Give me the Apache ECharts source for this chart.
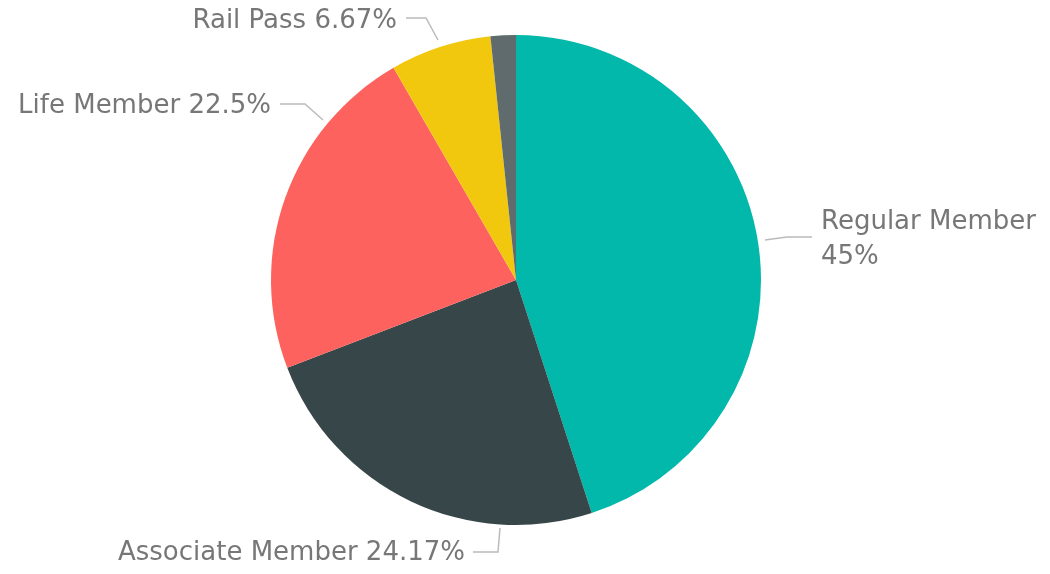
<!DOCTYPE html>
<html>
<head>
<meta charset="utf-8">
<script src="https://cdn.jsdelivr.net/npm/echarts@6/dist/echarts.min.js"></script>
<style>
  html, body { margin: 0; padding: 0; background: #fff; }
  #chart { width: 1050px; height: 574px; }
</style>
</head>
<body>
<div id="chart"></div>
<script>
// membership counts (out of 120)
var categories = ['Regular Member', 'Associate Member', 'Life Member', 'Rail Pass', 'Other'];
var counts = [54, 29, 27, 8, 2];
var colors = ['#01B8AA', '#374649', '#FD625E', '#F2C80F', '#5F6B6D'];

// where each label sits (text anchor + leader line), like the original layout
var labelSpots = {
  'Regular Member': { x: 821, y: 240, align: 'left', line: [[765, 240], [787, 237], [812, 237]] },
  'Associate Member': { x: 465, y: 553, align: 'right', line: [[500, 528], [498, 552], [473, 552]] },
  'Life Member': { x: 271, y: 106, align: 'right', line: [[323, 120], [305, 104], [280, 104]] },
  'Rail Pass': { x: 397, y: 21, align: 'right', line: [[438, 40], [426, 18], [406, 18]] }
};

var chart = echarts.init(document.getElementById('chart'));

var pieData = categories.map(function (name, i) {
  var item = { name: name, value: counts[i], itemStyle: { color: colors[i] } };
  if (name === 'Other') {
    item.label = { show: false };
    item.labelLine = { show: false };
  }
  return item;
});

chart.setOption({
  animation: false,
  series: [
    {
      type: 'pie',
      center: [516, 280],
      radius: 245,
      startAngle: 90,
      clockwise: true,
      avoidLabelOverlap: false,
      data: pieData,
      label: {
        show: true,
        position: 'outside',
        color: '#777777',
        fontFamily: 'DejaVu Sans',
        fontSize: 26,
        lineHeight: 35,
        formatter: function (p) {
          if (p.name === 'Regular Member') return p.name + '\n' + p.percent + '%';
          return p.name + ' ' + p.percent + '%';
        }
      },
      labelLine: {
        show: true,
        length: 18,
        length2: 28,
        lineStyle: { color: '#BBBBBB', width: 1.5 }
      },
      labelLayout: function (params) {
        var s = labelSpots[categories[params.dataIndex]];
        if (!s) return {};
        return {
          x: s.x,
          y: s.y,
          align: s.align,
          verticalAlign: 'middle',
          labelLinePoints: s.line
        };
      }
    }
  ]
});
</script>
</body>
</html>
